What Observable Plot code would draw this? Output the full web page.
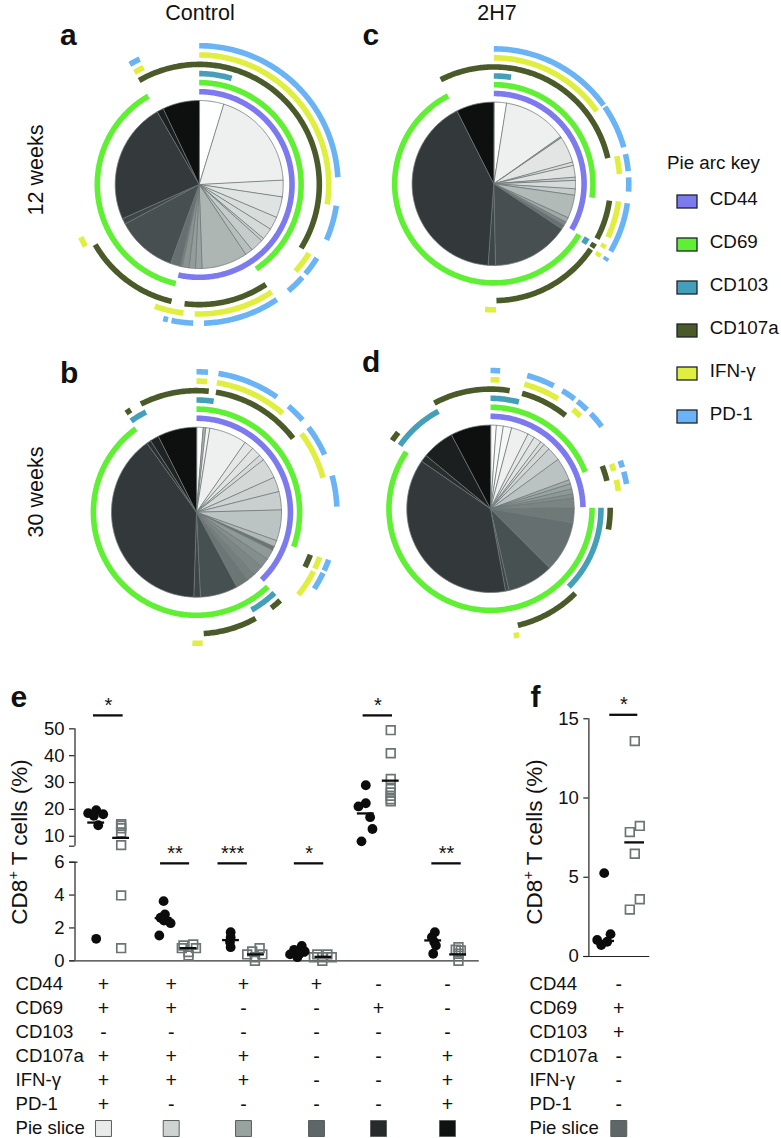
<!DOCTYPE html>
<html>
<head>
<meta charset="utf-8">
<script src="https://cdn.jsdelivr.net/npm/d3@7"></script>
<script src="https://cdn.jsdelivr.net/npm/@observablehq/plot@0.6"></script>
<style>
html,body{margin:0;padding:0;background:#fff;}
#page{position:relative;width:781px;height:1138px;overflow:hidden;font-family:"Liberation Sans",Arial,sans-serif;color:#111;}
#page svg{position:absolute;overflow:visible;}
.lab{position:absolute;white-space:nowrap;line-height:1;}
.letter{font-weight:bold;font-size:30px;}
sup{font-size:.65em;line-height:0;}
</style>
</head>
<body>
<div id="page"></div>
<script>
// ---------- Pie arc key ----------
const arcNames = ["CD44","CD69","CD103","CD107a","IFN-γ","PD-1"];
const arcColors = ["#7d7aee","#5fef33","#459fb8","#4a5a28","#e0ee3f","#6ab4f6"];
const ringRadii = [1.105,1.213,1.32,1.43,1.542,1.652];

// ---------- Pie a (12 weeks, Control): slice end angles (deg clockwise from 12 o'clock) ----------
const pieAEnds = [17,87,98.5,113,122,130,132,141,146.3,178,182.5,187,191.7,193,200,242,246,330,334.6,360];
const pieAShades = ["#ffffff","#eef0ef","#e8eaea","#dfe3e2","#d8dddc","#d4dad8","#c9cfcd","#c5cccb","#b8c0be","#aeb6b4","#9aa3a1","#939c9a","#8a9391","#7c8583","#677070","#474f50","#3f4648","#34393b","#1c1f20","#0e1010"];
const pieAArcs = [
 ["CD44",0,193],
 ["CD69",0,146],["CD69",193.3,330],
 ["CD103",0,17],
 ["CD107a",330,482],["CD107a",146.3,187],["CD107a",193.3,240],
 ["IFN-γ",0,98.8],["IFN-γ",122,132],["IFN-γ",146,182],["IFN-γ",187,200],["IFN-γ",241.5,246],["IFN-γ",330,334.6],
 ["PD-1",0,87],["PD-1",98.8,113.5],["PD-1",122,130],["PD-1",132,140],["PD-1",146,178],["PD-1",182.5,191.5],["PD-1",193,195],["PD-1",330,334.6]
];

// ---------- Pie c (12 weeks, 2H7) ----------
const pieCEnds = [9,54.7,55.7,74.5,77,85.3,87.6,93.5,98,114.5,118,120.5,123.6,178.8,184,333.2,360];
const pieCShades = ["#ffffff","#eef0ef","#9aa3a1","#e2e5e4","#d8dcdb","#dfe2e1","#c9cfcd","#d6dad9","#c4cbca","#b2bab8","#a0a9a7","#7e8886","#687171","#474f50","#3f4648","#33393a","#0e1010"];
const pieCArcs = [
 ["CD44",0,120.4],
 ["CD69",0,98],["CD69",120.8,332.5],
 ["CD103",0,9.2],["CD103",120,123.6],
 ["CD107a",333,437.3],["CD107a",98.3,118],["CD107a",120.5,123],["CD107a",124,178.7],
 ["IFN-γ",0,54.8],["IFN-γ",77.3,85.5],["IFN-γ",98,115],["IFN-γ",118.5,120.5],["IFN-γ",123,125],["IFN-γ",179,184],
 ["PD-1",0,54.4],["PD-1",55.3,74.3],["PD-1",77.3,84.6],["PD-1",87.3,93.3],["PD-1",98.3,120],["PD-1",123,124.6]
];

// ---------- Pie b (30 weeks, Control) ----------
const pieBEnds = [4.5,6.3,9,34.8,41.3,48,51.9,65.8,75.9,88.4,109.5,113.9,116.5,123.4,129.9,137,142.8,151.7,177.3,181.8,324.3,327.3,333.3,360];
const pieBShades = ["#ffffff","#aab2b0","#f4f4f4","#eef0ef","#e4e7e6","#dfe3e2","#d6dad9","#d4d9d8","#ced3d2","#c9cfce","#bcc4c3","#b0b8b6","#6c7573","#8f9997","#848e8c","#7c8684","#757f7d","#6c7674","#475051","#3e4547","#33393a","#2a2f30","#1f2324","#0e1010"];
const pieBArcs = [
 ["CD44",0,136],
 ["CD69",0,109.6],["CD69",136.3,324],
 ["CD103",0,8.8],["CD103",136,150.6],["CD103",324.4,333.2],
 ["CD107a",332.8,365.8],["CD107a",9.2,52.6],["CD107a",110.5,116.8],["CD107a",136.5,142],["CD107a",150.9,176.6],["CD107a",324.6,327.3],
 ["IFN-γ",0,4.7],["IFN-γ",8.9,41.1],["IFN-γ",53.2,74.8],["IFN-γ",110,115.5],["IFN-γ",116.8,129],["IFN-γ",177.3,181.8],
 ["PD-1",0,4.7],["PD-1",9,34.9],["PD-1",40.9,49],["PD-1",52.9,65.8],["PD-1",74.9,87.7],["PD-1",109.8,114.6],["PD-1",115.7,123]
];

// ---------- Pie d (30 weeks, 2H7) ----------
const pieDEnds = [4,8.8,14.6,26.6,31.4,36.9,39.7,44.2,53.8,69.7,72.6,76.2,79.7,82.7,89.3,99.8,135,167.2,169.6,304.6,309.6,332.2,360];
const pieDShades = ["#fbfbfb","#f8f9f9","#f6f7f7","#eef0ef","#e5e8e7","#dfe3e2","#d9dddc","#d3d8d7","#c9cfce","#bbc3c2","#a4adab","#99a3a1","#8e9896","#838d8c","#7a8483","#6f7978","#656f6f","#485152","#3f4749","#33393a","#282d2e","#1b1f20","#0e1010"];
const pieDArcs = [
 ["CD44",0,89],
 ["CD69",0,68.8],["CD69",89.4,304],
 ["CD103",0,14.9],["CD103",89.5,134.9],["CD103",305,331.9],
 ["CD107a",332,369.2],["CD107a",15.3,38.8],["CD107a",69,76.5],["CD107a",89.5,100],["CD107a",134.9,166.8],["CD107a",304.8,309.6],
 ["IFN-γ",0,4],["IFN-γ",15.2,31.5],["IFN-γ",39.7,44.2],["IFN-γ",69.7,72.9],["IFN-γ",77,82],["IFN-γ",167.2,169.6],
 ["PD-1",0,4],["PD-1",15.4,27.2],["PD-1",31.3,37.4],["PD-1",39,44.3],["PD-1",46.5,53.5],["PD-1",69.7,72.6],["PD-1",74.5,79.7]
];

// ---------- Panel e: [group, x offset within group, % of CD8+ T cells] ----------
const eControl = [
 [0,-.119,18.6],[0,0,19.7],[0,.104,18.2],[0,-.035,17.6],[0,.03,14.1],[0,0,1.34],
 [1,0,3.63],[1,.02,2.82],[1,-.045,2.62],[1,.005,2.45],[1,.104,2.29],[1,-.064,1.54],
 [2,-.005,1.74],[2,-.005,1.44],[2,-.015,1.14],[2,-.005,.83],
 [3,.05,.91],[3,-.064,.67],[3,-.124,.39],[3,.094,.57],[3,-.015,.22],[3,.01,.39],
 [4,0,29.0],[4,0,22.3],[4,-.109,21.1],[4,.064,17.1],[4,.099,12.7],[4,-.064,8.1],
 [5,.025,1.74],[5,-.02,1.44],[5,.015,1.14],[5,.04,.93],[5,0,.43]
];
const eTreated = [
 [0,.37,14.5],[0,.37,13.9],[0,.37,13],[0,.37,11.4],[0,.37,6.7],[0,.37,3.98],[0,.37,.77],
 [1,.295,.93],[1,.44,.99],[1,.27,.77],[1,.48,.77],[1,.37,.53],[1,.37,.32],
 [2,.425,.77],[2,.315,.57],[2,.24,.39],[2,.465,.39],[2,.355,.22],[2,.355,0],
 [3,.28,.39],[3,.43,.39],[3,.23,.22],[3,.495,.22],[3,.355,0],[3,.355,.22],
 [4,.37,49.5],[4,.37,40.9],[4,.37,31.3],[4,.37,27.6],[4,.37,26.3],[4,.37,25.1],[4,.37,23.8],[4,.37,23],
 [5,.375,.83],[5,.335,.67],[5,.41,.63],[5,.375,.43],[5,.375,0]
];
const eControlMeans = [15.1,2.6,1.26,.32,18.5,1.24];
const eTreatedMeans = [9.4,.77,.39,.24,30.7,.39];
const eSigStars = ["*","**","***","*","*","**"];
const eSigStart = [-.04,.955,1.807,2.94,3.96,4.98];
const eSigEnd = [.40,1.386,2.243,3.376,4.396,5.416];
const eSigLevel = [55,5.93,5.93,5.93,55,5.93];
const eTicks = [0,2,4,6,6.3,10,20,30,40,50];

// ---------- Panel f: [x position, % of CD8+ T cells] ----------
const fControl = [[0,5.26],[.207,1.41],[-.229,1.04],[-.098,.72],[.098,.93]];
const fTreated = [[1,13.59],[1.163,8.24],[.837,7.85],[1,6.48],[1.163,3.61],[.837,2.96]];
const fMeans = [.98,7.2];
const fTicks = [0,5,10,15];

// ---------- Phenotype table ----------
const tableRows = ["CD44","CD69","CD103","CD107a","IFN-γ","PD-1","Pie slice"];
const signsCD44 = ["+","+","+","+","-","-"];
const signsCD69 = ["+","+","-","-","+","-"];
const signsCD103 = ["-","-","-","-","-","-"];
const signsCD107a = ["+","+","+","-","-","+"];
const signsIFN = ["+","+","+","-","-","+"];
const signsPD1 = ["+","-","-","-","-","+"];
const sliceSwatches = ["#e9ebea","#cfd4d2","#98a29f","#5e6668","#262a2b","#101212"];
const fSigns = ["-","+","+","-","-","-"];
const fSwatch = "#5e6668";

// ---------- helpers ----------
const page = document.getElementById("page");
const FONT = {fontFamily:"'Liberation Sans',Arial,sans-serif",background:"transparent",color:"#111"};
function place(el,left,top){el.style.left=left+"px";el.style.top=top+"px";page.appendChild(el);}
function label(html,x,y,size,cls,rot){
  const d=document.createElement("div");d.className="lab "+(cls||"");d.innerHTML=html;
  if(size)d.style.fontSize=size+"px";
  d.style.left=x+"px";d.style.top=y+"px";
  if(rot)d.style.transform="translate(-50%,-50%) rotate(-90deg)";
  page.appendChild(d);
}
const polar=(deg,r)=>{const t=deg*Math.PI/180;return {px:r*Math.sin(t),py:r*Math.cos(t)};};
function arcPoints(a,b,r){const n=Math.max(2,Math.ceil((b-a)/0.75)+1);return d3.range(n).map(i=>polar(a+(b-a)*i/(n-1),r));}

function pie(ends,shades,arcs,cx,cy,R,left,top){
  const w=310,h=330;
  const slicePts=ends.flatMap((e,i)=>{
    const s=i?ends[i-1]:0;
    return [{px:0,py:0},...arcPoints(s,e,1)].map(p=>({...p,id:i,shade:shades[i]}));
  });
  const arcPts=arcs.flatMap(([name,a,b],i)=>{
    const k=arcNames.indexOf(name);
    return arcPoints(a,b,ringRadii[k]).map(p=>({...p,id:i,col:arcColors[k]}));
  });
  const svg=Plot.plot({
    width:w,height:h,margin:0,style:FONT,
    x:{domain:[-1,1],range:[cx-left-R,cx-left+R],axis:null},
    y:{domain:[-1,1],range:[cy-top+R,cy-top-R],axis:null},
    color:{type:"identity"},
    marks:[
      Plot.line(slicePts,{x:"px",y:"py",z:"id",fill:d=>d.shade,stroke:"#6f7777",strokeWidth:0.8,curve:"linear-closed"}),
      Plot.line(arcPts,{x:"px",y:"py",z:"id",stroke:d=>d.col,strokeWidth:5.6,strokeLinecap:"butt",strokeLinejoin:"round",curve:"linear"})
    ]
  });
  place(svg,left,top);
}

// ---------- pies ----------
pie(pieAEnds,pieAShades,pieAArcs,198.7,184,84,40,15);
pie(pieCEnds,pieCShades,pieCArcs,493.3,183.3,81.7,345,15);
pie(pieBEnds,pieBShades,pieBArcs,196,511.7,85,40,340);
pie(pieDEnds,pieDShades,pieDArcs,490,508.3,83.7,345,340);

// ---------- key ----------
place(Plot.plot({
  width:121,height:270,margin:0,style:FONT,
  x:{type:"band",domain:["swatch"],range:[16.7,36.7],padding:0,axis:null},
  y:{type:"band",domain:arcNames,range:[9.75,268.35],paddingInner:.7,paddingOuter:.35,axis:null},
  color:{type:"identity"},
  marks:[
    Plot.cell(arcNames,{x:()=>"swatch",y:d=>d,fill:(d,i)=>arcColors[i],stroke:"#1c2430",strokeWidth:1.3}),
    Plot.text(arcNames,{y:d=>d,text:d=>d,frameAnchor:"left",dx:49.3,dy:-3,textAnchor:"start",fontSize:18.8,fill:"#111"})
  ]
}),660,170);

// ---------- panel e ----------
const eAxisX=-.3145, eRightX=5.683, eLeftX=-.391;
const eSig=eSigStars.map((s,i)=>({s,a:eSigStart[i],b:eSigEnd[i],v:eSigLevel[i]}));
const eMeanCtl=eControlMeans.map((v,i)=>({g:i,v}));
const eMeanTrt=eTreatedMeans.map((v,i)=>({g:i+.37,v}));
place(Plot.plot({
  width:490,height:290,marginLeft:74.5,marginTop:0,marginRight:0,marginBottom:0,style:FONT,
  x:{domain:[0,5],range:[95.7,432.7],axis:null},
  y:{type:"linear",domain:[0,6,6.3,55],range:[280.3,181.7,165.7,34.9]},
  marks:[
    Plot.axisY({ticks:eTicks,tickFormat:d=>d===6.3?"":d,anchor:"left",label:null,tickSize:5.5,tickPadding:5,fontSize:18.5,strokeWidth:1.2,stroke:"#222"}),
    Plot.ruleX([eAxisX],{y1:0,y2:6,stroke:"#222",strokeWidth:1.2}),
    Plot.ruleX([eAxisX],{y1:6.3,y2:50,stroke:"#222",strokeWidth:1.2}),
    Plot.ruleY([6],{x1:eLeftX,x2:-.27,stroke:"#222",strokeWidth:1.2}),
    Plot.ruleY([0],{x1:eLeftX,x2:eRightX,stroke:"#333",strokeWidth:1.2}),
    Plot.dot(eTreated,{x:d=>d[0]+d[1],y:d=>d[2],symbol:"square",r:4.9,fill:"none",stroke:"#6d7474",strokeWidth:1.7}),
    Plot.dot(eControl,{x:d=>d[0]+d[1],y:d=>d[2],r:4.9,fill:"#0c0c0c",stroke:"none"}),
    Plot.ruleY(eMeanCtl,{y:"v",x1:d=>d.g-.125,x2:d=>d.g+.125,stroke:"#0c0c0c",strokeWidth:2.3}),
    Plot.ruleY(eMeanTrt,{y:"v",x1:d=>d.g-.125,x2:d=>d.g+.125,stroke:"#0c0c0c",strokeWidth:2.3}),
    Plot.ruleY(eSig,{y:"v",x1:"a",x2:"b",stroke:"#0c0c0c",strokeWidth:2.3}),
    Plot.text(eSig,{x:d=>(d.a+d.b)/2,y:"v",text:"s",fontSize:20,dy:-10,fill:"#111"})
  ]
}),0,680);

// ---------- panel f ----------
const fSig=[{a:.183,b:1.098,v:15.25,s:"*"}];
place(Plot.plot({
  width:170,height:290,marginLeft:78.3,marginTop:0,marginRight:0,marginBottom:0,style:FONT,
  x:{domain:[0,1],range:[93.7,124.3],axis:null},
  y:{domain:[0,15.25],range:[276,34.3]},
  marks:[
    Plot.axisY({ticks:fTicks,anchor:"left",label:null,tickSize:5,tickPadding:5,fontSize:18.5,strokeWidth:1.2,stroke:"#222"}),
    Plot.ruleX([-.5],{y1:0,y2:15,stroke:"#222",strokeWidth:1.2}),
    Plot.ruleY([0],{x1:-.667,x2:1.49,stroke:"#222",strokeWidth:1.2}),
    Plot.dot(fTreated,{x:d=>d[0],y:d=>d[1],symbol:"square",r:4.9,fill:"none",stroke:"#6d7474",strokeWidth:1.7}),
    Plot.dot(fControl,{x:d=>d[0],y:d=>d[1],r:4.9,fill:"#0c0c0c",stroke:"none"}),
    Plot.ruleY([fMeans[0]],{x1:-.21,x2:.337,stroke:"#0c0c0c",strokeWidth:2.3}),
    Plot.ruleY([fMeans[1]],{x1:.673,x2:1.317,stroke:"#0c0c0c",strokeWidth:2.3}),
    Plot.ruleY(fSig,{y:"v",x1:"a",x2:"b",stroke:"#0c0c0c",strokeWidth:2.3}),
    Plot.text(fSig,{x:d=>(d.a+d.b)/2,y:"v",text:"s",fontSize:20,dy:-10,fill:"#111"})
  ]
}),510,680);

// ---------- phenotype tables ----------
function phenotype(columns,positions,swatches,left,width,labelLeft){
  const rows=tableRows.slice(0,6);
  const cells=rows.flatMap((r,i)=>columns[i].map((s,c)=>({r,s,c})));
  const idx=positions.map((_,i)=>i);
  const xScale=idx.length>1?{type:"linear",domain:idx,range:positions,axis:null}:{type:"linear",domain:[0,1],range:[positions[0],positions[0]+1],axis:null};
  place(Plot.plot({
    width,height:173,margin:0,style:FONT,
    x:xScale,
    y:{type:"point",domain:tableRows,range:[18.6,162.7],padding:0,axis:null},
    color:{type:"identity"},
    marks:[
      Plot.text(tableRows,{y:d=>d,text:d=>d,frameAnchor:"left",dx:labelLeft,textAnchor:"start",fontSize:18.6,fill:"#111"}),
      Plot.text(cells,{x:"c",y:"r",text:"s",fontSize:19.5,fill:"#111"}),
      Plot.dot(swatches,{x:(d,i)=>i,y:()=>"Pie slice",symbol:"square",r:9,fill:d=>d,stroke:"#5a5f5f",strokeWidth:1})
    ]
  }),left,965);
}
phenotype([signsCD44,signsCD69,signsCD103,signsCD107a,signsIFN,signsPD1],[103,170.7,243,316,378,447],sliceSwatches,0,490,15);
phenotype(fSigns.map(s=>[s]),[108.3],[fSwatch],510,170,19);

// ---------- text ----------
label("Control",200,3,21.5,"");page.lastChild.style.transform="translateX(-50%)";
label("2H7",497,3,21.5,"");page.lastChild.style.transform="translateX(-50%)";
label("12 weeks",37,170,21.5,"",true);
label("30 weeks",37,492,21.5,"",true);
label("a",60,20,null,"letter");
label("c",362.5,20,null,"letter");
label("b",60,358,null,"letter");
label("d",362,347,null,"letter");
label("e",10.5,682,null,"letter");
label("f",530.5,682,null,"letter");
label("CD8<sup>+</sup> T cells (%)",20,842,22.5,"",true);
label("CD8<sup>+</sup> T cells (%)",535,842,22.5,"",true);
label("Pie arc key",667,154,18.8,"");
</script>
</body>
</html>
